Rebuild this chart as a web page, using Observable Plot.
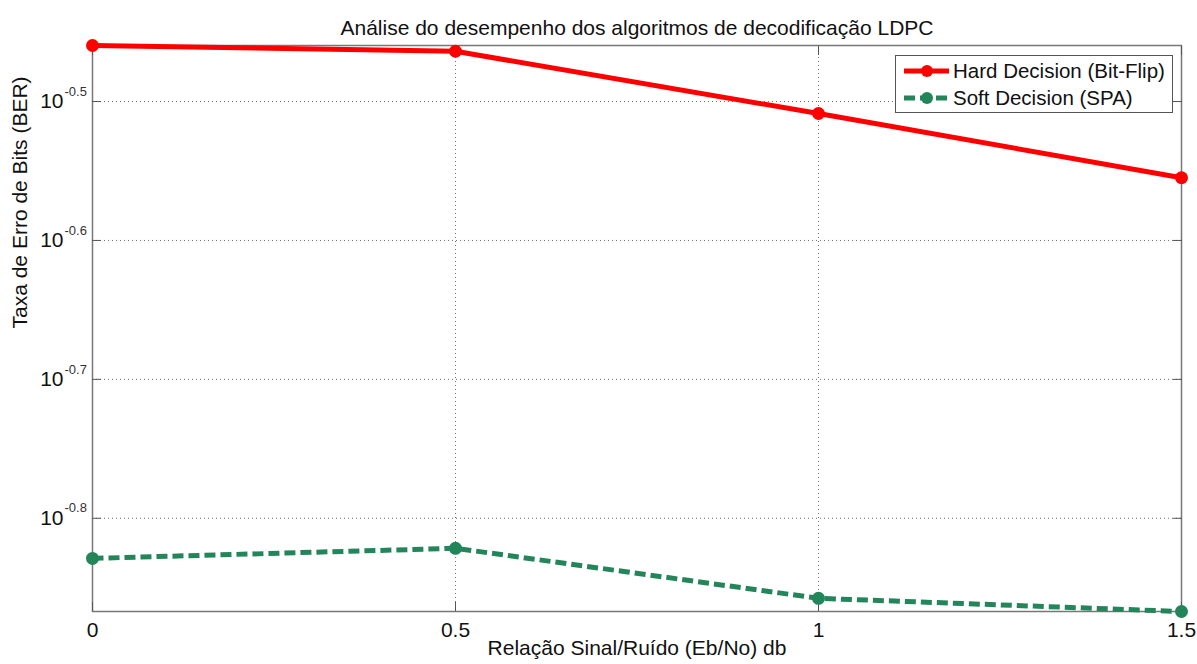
<!DOCTYPE html>
<html>
<head>
<meta charset="utf-8">
<script src="https://cdn.jsdelivr.net/npm/d3@7"></script>
<script src="https://cdn.jsdelivr.net/npm/@observablehq/plot@0.6"></script>
<style>
  html, body { margin: 0; padding: 0; background: #fff; }
  #wrap { position: relative; width: 1197px; height: 664px; font-family: "Liberation Sans", Arial, sans-serif; }
  #legend { position: absolute; left: 895px; top: 55px; width: 278px; height: 58px; box-sizing: border-box;
            border: 1px solid #555; background: #fff; font-size: 20.5px; color: #111; }
  #legend .row { position: absolute; left: 8px; height: 26px; display: flex; align-items: center; }
  #legend .row span { margin-left: 4px; white-space: nowrap; }
</style>
</head>
<body>
<div id="wrap"></div>
<script>
// ---- data ----
const snr = [0, 0.5, 1, 1.5];
const hardBER = [0.347, 0.3437, 0.310, 0.2787];
const softBER = [0.1483, 0.1508, 0.1388, 0.1358];
const xTicks = [0, 0.5, 1, 1.5];
const xTickLabels = ["0", "0.5", "1", "1.5"];
const yTickExps = ["-0.8", "-0.7", "-0.6", "-0.5"];
const yTicks = yTickExps.map(e => Math.pow(10, +e));
const seriesNames = ["Hard Decision (Bit-Flip)", "Soft Decision (SPA)"];
const seriesColors = ["#ff0000", "#23855a"];
const title = "Análise do desempenho dos algoritmos de decodificação LDPC";
const xLabel = "Relação Sinal/Ruído (Eb/No) db";
const yLabel = "Taxa de Erro de Bits (BER)";

const hard = snr.map((x, i) => ({x, y: hardBER[i]}));
const soft = snr.map((x, i) => ({x, y: softBER[i]}));
const yTickData = yTicks.map((v, i) => ({v, e: yTickExps[i]}));

const font = "Liberation Sans, Arial, sans-serif";
const noLabel = () => "";

const chart = Plot.plot({
  width: 1197,
  height: 664,
  marginLeft: 92,
  marginRight: 16,
  marginTop: 45,
  marginBottom: 53,
  style: {fontFamily: font, fontSize: "21px", color: "#111", background: "#fff"},
  x: {domain: [0, 1.5]},
  y: {type: "log", domain: [d3.min(softBER), d3.max(hardBER)]},
  marks: [
    Plot.gridX(xTicks, {stroke: "#333", strokeOpacity: 0.7, strokeDasharray: "1,3"}),
    Plot.gridY(yTicks, {stroke: "#333", strokeOpacity: 0.7, strokeDasharray: "1,3"}),
    Plot.frame({stroke: "#777", strokeWidth: 1.5}),
    Plot.axisX(xTicks, {anchor: "bottom", tickSize: -9, tickPadding: 20, stroke: "#555",
      tickFormat: d => xTickLabels[xTicks.indexOf(d)], fontSize: 21, label: null}),
    Plot.axisX(xTicks, {anchor: "top", tickSize: -9, stroke: "#555", tickFormat: noLabel, label: null}),
    Plot.axisY(yTicks, {anchor: "left", tickSize: -9, stroke: "#555", tickFormat: noLabel, label: null}),
    Plot.axisY(yTicks, {anchor: "right", tickSize: -9, stroke: "#555", tickFormat: noLabel, label: null}),
    Plot.text(yTickData, {y: "v", text: () => "10", frameAnchor: "left", dx: -29, textAnchor: "end", fontSize: 21, fill: "#111"}),
    Plot.text(yTickData, {y: "v", text: "e", frameAnchor: "left", dx: -28, dy: -10, textAnchor: "start", fontSize: 13, fill: "#333"}),
    Plot.line(hard, {x: "x", y: "y", stroke: seriesColors[0], strokeWidth: 5}),
    Plot.dot(hard, {x: "x", y: "y", r: 6.5, fill: seriesColors[0], stroke: "none"}),
    Plot.line(soft, {x: "x", y: "y", stroke: seriesColors[1], strokeWidth: 5, strokeDasharray: "11,5", strokeLinecap: "butt"}),
    Plot.dot(soft, {x: "x", y: "y", r: 6.5, fill: seriesColors[1], stroke: "none"}),
    Plot.text([title], {frameAnchor: "top", dy: -25, text: d => d, fontSize: 21, fill: "#111"}),
    Plot.text([xLabel], {frameAnchor: "bottom", dy: 43, text: d => d, fontSize: 21, fill: "#111"}),
    Plot.text([yLabel], {frameAnchor: "left", dx: -72, rotate: -90, text: d => d, fontSize: 21, fill: "#111"})
  ]
});

const wrap = document.getElementById("wrap");
wrap.appendChild(chart);

// legend
const legend = document.createElement("div");
legend.id = "legend";
seriesNames.forEach((name, i) => {
  const row = document.createElement("div");
  row.className = "row";
  row.style.top = (i === 0 ? 2 : 29) + "px";
  const dash = i === 0 ? "" : 'stroke-dasharray="11,5"';
  row.innerHTML = `<svg width="45" height="14"><line x1="0" x2="45" y1="7" y2="7" stroke="${seriesColors[i]}" stroke-width="5" ${dash}/><circle cx="23" cy="7" r="6" fill="${seriesColors[i]}"/></svg><span>${name}</span>`;
  legend.appendChild(row);
});
wrap.appendChild(legend);
</script>
</body>
</html>
